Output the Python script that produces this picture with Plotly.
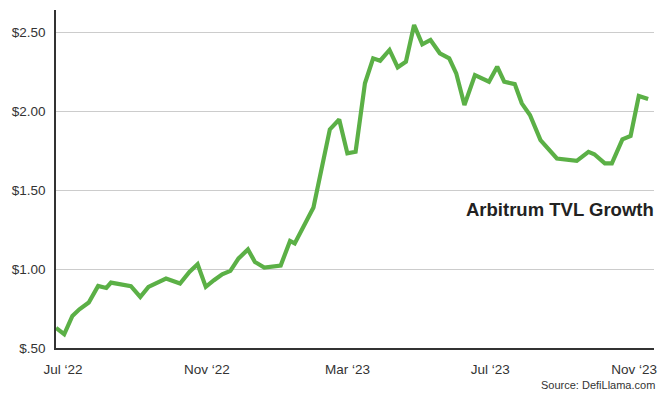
import plotly.graph_objects as go

dates = [
    "2022-06-25", "2022-07-02", "2022-07-09", "2022-07-15", "2022-07-23", "2022-07-31",
    "2022-08-07", "2022-08-11", "2022-08-28", "2022-09-05", "2022-09-12", "2022-09-24",
    "2022-09-27", "2022-10-09", "2022-10-17", "2022-10-24", "2022-10-31", "2022-11-07",
    "2022-11-14", "2022-11-21", "2022-11-28", "2022-12-06", "2022-12-12", "2022-12-20",
    "2023-01-03", "2023-01-11", "2023-01-15", "2023-01-31", "2023-02-14", "2023-02-22",
    "2023-03-01", "2023-03-08", "2023-03-16", "2023-03-23", "2023-03-29", "2023-04-06",
    "2023-04-13", "2023-04-20", "2023-04-27", "2023-05-04", "2023-05-11", "2023-05-19",
    "2023-05-27", "2023-06-02", "2023-06-09", "2023-06-18", "2023-06-30", "2023-07-07",
    "2023-07-13", "2023-07-22", "2023-07-28", "2023-08-04", "2023-08-13", "2023-08-27",
    "2023-09-04", "2023-09-13", "2023-09-23", "2023-09-28", "2023-10-07", "2023-10-13",
    "2023-10-22", "2023-10-29", "2023-11-05", "2023-11-13",
]
tvl = [
    0.627, 0.587, 0.703, 0.745, 0.788, 0.893,
    0.880, 0.914, 0.891, 0.823, 0.887, 0.935,
    0.940, 0.908, 0.982, 1.030, 0.887, 0.929,
    0.967, 0.988, 1.067, 1.124, 1.045, 1.009,
    1.022, 1.178, 1.162, 1.390, 1.884, 1.947,
    1.732, 1.742, 2.176, 2.334, 2.319, 2.387,
    2.277, 2.312, 2.545, 2.423, 2.450, 2.366,
    2.334, 2.239, 2.038, 2.228, 2.186, 2.281,
    2.186, 2.171, 2.049, 1.975, 1.816, 1.700,
    1.694, 1.685, 1.742, 1.727, 1.669, 1.669,
    1.821, 1.842, 2.095, 2.076,
]

y_ticks = [0.5, 1.0, 1.5, 2.0, 2.5]
y_labels = ["$.50", "$1.00", "$1.50", "$2.00", "$2.50"]
x_ticks = ["2022-07-01", "2022-11-01", "2023-03-01", "2023-07-01", "2023-11-01"]
x_labels = ["Jul \u201822", "Nov \u201822", "Mar \u201823", "Jul \u201823", "Nov \u201823"]

font_family = "Liberation Sans, Arial, sans-serif"

fig = go.Figure()
fig.add_trace(go.Scatter(
    x=dates, y=tvl, mode="lines",
    line=dict(color="#5BB046", width=4.2),
    hoverinfo="skip",
))

fig.update_layout(
    width=666, height=395,
    margin=dict(l=56, r=9, t=10, b=47),
    paper_bgcolor="white", plot_bgcolor="white",
    showlegend=False,
    font=dict(family=font_family, size=13, color="#333333"),
    xaxis=dict(
        type="date",
        range=["2022-06-25", "2023-11-18"],
        tickvals=x_ticks, ticktext=x_labels,
        showgrid=False, zeroline=False,
        showline=True, linecolor="#333333", linewidth=1.5,
        ticks="outside", ticklen=8, tickcolor="rgba(0,0,0,0)",
        tickfont=dict(size=13.5, color="#333333"),
    ),
    yaxis=dict(
        range=[0.5, 2.64],
        tickvals=y_ticks, ticktext=y_labels,
        showgrid=True, gridcolor="#cccccc", gridwidth=1,
        zeroline=False,
        showline=True, linecolor="#333333", linewidth=1.5,
        ticks="outside", ticklen=6, tickcolor="rgba(0,0,0,0)",
        tickfont=dict(size=13.5, color="#333333"),
    ),
    annotations=[
        dict(text="<b>Arbitrum TVL Growth</b>", xref="paper", yref="paper",
             x=1.003, y=0.41, xanchor="right", yanchor="middle", showarrow=False,
             font=dict(size=18.5, color="#222222", family=font_family)),
        dict(text="Source: DefiLlama.com", xref="paper", yref="paper",
             x=1.005, y=-0.134, xanchor="right", yanchor="bottom", showarrow=False,
             font=dict(size=11, color="#333333", family=font_family)),
    ],
)

fig.write_html("out.html")
